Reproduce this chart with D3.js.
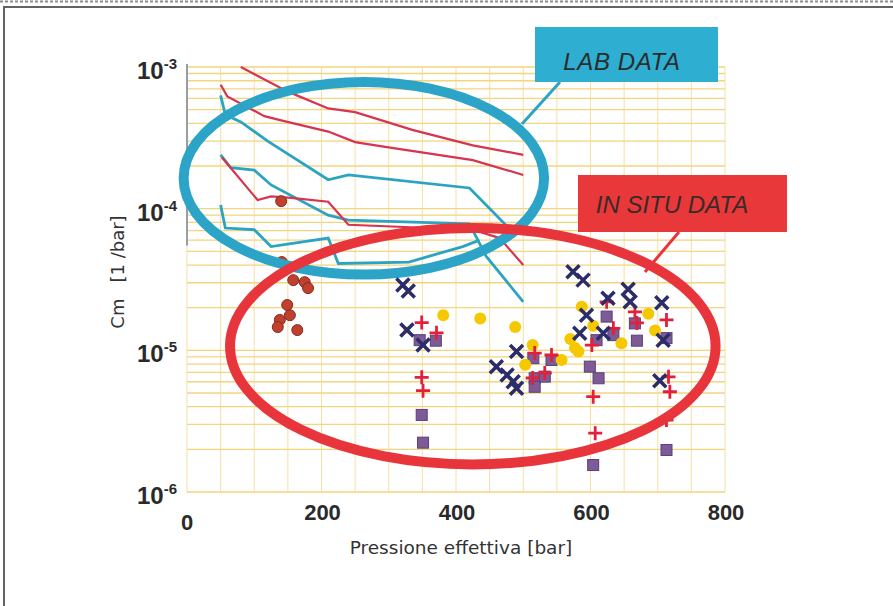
<!DOCTYPE html>
<html><head><meta charset="utf-8">
<script src="https://cdn.jsdelivr.net/npm/d3@7"></script>
<style>body{margin:0;background:#fff}svg{display:block}</style>
</head><body>
<svg id="chart" width="893" height="606"></svg>
<script>
// ---------- DATA ----------
const xTickValues = [0, 200, 400, 600, 800];
const yTickExponents = [-3, -4, -5, -6];
const xTitle = "Pressione effettiva [bar]";
const yTitleA = "Cm";
const yTitleB = "[1 /bar]";

// Lab data curves [pressure (bar), Cm (1/bar)]
const labRed1 = [[80,1.0e-3],[150,6.7e-4],[210,5.1e-4],[250,4.8e-4],[335,3.6e-4],[425,2.8e-4],[500,2.4e-4]];
const labRed2 = [[50,7.5e-4],[60,6.2e-4],[115,4.5e-4],[140,4.2e-4],[210,3.5e-4],[250,2.95e-4],[290,2.75e-4],[425,2.2e-4],[500,1.73e-4]];
const labRed3 = [[52,2.3e-4],[105,1.15e-4],[125,1.22e-4],[155,1.19e-4],[210,1.12e-4],[240,7.7e-5],[425,7.1e-5],[465,6.2e-5],[500,4.0e-5]];
const labCyan1 = [[50,6.3e-4],[57,4.6e-4],[80,4.1e-4],[120,3.0e-4],[210,1.6e-4],[240,1.73e-4],[420,1.4e-4],[485,6.8e-5]];
const labCyan2 = [[50,2.4e-4],[65,1.95e-4],[100,1.87e-4],[125,1.47e-4],[210,9.0e-5],[240,8.3e-5],[420,7.8e-5],[445,4.6e-5],[500,2.2e-5]];
const labCyan3 = [[50,1.06e-4],[57,7.3e-5],[100,7.1e-5],[125,5.4e-5],[210,6.2e-5],[225,4.1e-5],[330,4.2e-5],[410,5.4e-5],[435,6.0e-5]];

// In situ data points
const brownDots = [[140,1.13e-4],[141,4.2e-5],[158,3.13e-5],[175,3.03e-5],[180,2.75e-5],[149,2.09e-5],[153,1.77e-5],[138,1.64e-5],[135,1.46e-5],[164,1.39e-5]];
const navyX = [[321,2.89e-5],[329,2.62e-5],[327,1.39e-5],[351,1.09e-5],[490,9.8e-6],[460,7.67e-6],[476,6.7e-6],[485,6.0e-6],[490,5.4e-6],
  [574,3.59e-5],[589,3.13e-5],[656,2.70e-5],[659,2.20e-5],[706,2.17e-5],[626,2.33e-5],[594,1.77e-5],[584,1.32e-5],[619,1.32e-5],[708,1.18e-5],[703,6.1e-6]];
const redPlus = [[349,1.57e-5],[371,1.33e-5],[349,6.45e-6],[351,5.19e-6],[517,9.57e-6],[542,9.27e-6],[514,6.38e-6],[532,6.92e-6],
  [624,2.20e-5],[666,1.87e-5],[713,1.64e-5],[634,1.43e-5],[602,1.09e-5],[669,1.56e-5],[716,6.5e-6],[718,5.1e-6],[604,4.71e-6],[607,2.6e-6],[713,3.22e-6]];
const purpleSquares = [[346,1.18e-5],[370,1.17e-5],[349,3.5e-6],[351,2.23e-6],[515,8.8e-6],[542,8.55e-6],[517,6.35e-6],[532,6.52e-6],[517,5.53e-6],
  [624,1.73e-5],[666,1.55e-5],[634,1.28e-5],[609,1.18e-5],[669,1.17e-5],[713,1.22e-5],[599,7.67e-6],[612,6.35e-6],[713,1.98e-6],[604,1.55e-6]];
const yellowDots = [[381,1.77e-5],[436,1.68e-5],[488,1.46e-5],[514,1.09e-5],[503,7.9e-6],[557,8.55e-6],[587,2.03e-5],[604,1.49e-5],
  [570,1.20e-5],[577,1.04e-5],[582,9.8e-6],[646,1.12e-5],[686,1.81e-5],[696,1.38e-5]];
const yellowSmall = [[327,1.39e-5]];

// Annotation ellipses: centre (bar, Cm), half width (bar), half height (decades)
const labEllipse = {cx:263, cy:1.64e-4, rx:268, ry:0.68};
const situEllipse = {cx:425, cy:1.07e-5, rx:361, ry:0.835};

// ---------- CHART ----------
const svg = d3.select("#chart");
const W = 893, H = 606;
const x = d3.scaleLinear().domain([0, 800]).range([187, 725]);
const y = d3.scaleLog().domain([1e-6, 1e-3]).range([492, 67]);

// frame
svg.append("line").attr("x1",0).attr("x2",W).attr("y1",1.5).attr("y2",1.5)
  .attr("stroke","#8a8a8a").attr("stroke-width",2).attr("stroke-dasharray","3,2");
svg.append("line").attr("x1",4).attr("x2",W).attr("y1",7).attr("y2",7)
  .attr("stroke","#5f6466").attr("stroke-width",2);
svg.append("line").attr("x1",4).attr("x2",4).attr("y1",6).attr("y2",H)
  .attr("stroke","#5f6466").attr("stroke-width",2);

// grid
const g = svg.append("g");
const minor = [];
for (let e = -6; e < -3; e++) for (let m = 1; m <= 9; m++) minor.push(m * Math.pow(10, e));
minor.push(1e-3);
g.selectAll(".hg").data(minor).join("line")
  .attr("x1", x(0)).attr("x2", x(800))
  .attr("y1", d => y(d)).attr("y2", d => y(d))
  .attr("stroke", "#f0cb5c").attr("stroke-width", 1.3).attr("opacity", 0.8);
g.selectAll(".vg").data(d3.range(0, 801, 50)).join("line")
  .attr("x1", d => x(d)).attr("x2", d => x(d))
  .attr("y1", y(1e-3)).attr("y2", y(1e-6))
  .attr("stroke", "#f3d98e").attr("stroke-width", 1).attr("opacity", 0.8);
// gray axis stub
svg.append("line").attr("x1", x(0)).attr("x2", x(0)).attr("y1", y(1e-3) - 3).attr("y2", y(5.5e-5))
  .attr("stroke", "#9a9ea3").attr("stroke-width", 2);

// tick labels
const tk = svg.append("g").attr("font-family","Liberation Sans, Arial, sans-serif").attr("fill","#2a2a2a");
tk.selectAll(".xt").data(xTickValues).join("text")
  .attr("x", d => x(d) + (d === 0 ? 0 : 1))
  .attr("y", d => d === 0 ? 530 : 520)
  .attr("text-anchor", "middle").attr("font-size", 22).attr("font-weight", "bold")
  .text(d => d);
const yt = tk.selectAll(".yt").data(yTickExponents).join("text")
  .attr("x", 177).attr("y", d => y(Math.pow(10, d)) + 12)
  .attr("text-anchor", "end").attr("font-size", 24).attr("font-weight", "bold");
yt.append("tspan").text("10");
yt.append("tspan").attr("dy", -10).attr("font-size", 15).text(d => "-" + Math.abs(d));

// axis titles
svg.append("text").attr("x", 461).attr("y", 554).attr("text-anchor", "middle")
  .attr("font-family", "DejaVu Sans, sans-serif").attr("font-size", 18.5).attr("fill", "#333")
  .text(xTitle);
const yTitle = svg.append("text").attr("transform", "translate(124,272) rotate(-90)").attr("text-anchor", "middle")
  .attr("font-family", "DejaVu Sans, sans-serif").attr("font-size", 18).attr("fill", "#333");
yTitle.append("tspan").text(yTitleA);
yTitle.append("tspan").attr("dx", 16).text(yTitleB);

// lab lines
const line = d3.line().x(d => x(d[0])).y(d => y(d[1]));
const reds = [labRed1, labRed2, labRed3];
const cyans = [labCyan1, labCyan2, labCyan3];
svg.append("g").selectAll("path").data(cyans).join("path")
  .attr("d", line).attr("fill", "none").attr("stroke", "#2ba4c4").attr("stroke-width", 2.8);
svg.append("g").selectAll("path").data(reds).join("path")
  .attr("d", line).attr("fill", "none").attr("stroke", "#d8334f").attr("stroke-width", 2.2);

// brown dots
svg.append("g").selectAll("circle").data(brownDots).join("circle")
  .attr("cx", d => x(d[0])).attr("cy", d => y(d[1])).attr("r", 5.5)
  .attr("fill", "#c0402e").attr("stroke", "#8a2a20").attr("stroke-width", 1);

// ellipses (annotations)
function ell(e) {
  const cx = x(e.cx), cy = y(e.cy);
  const rx = x(e.cx + e.rx) - cx;
  const ry = y(e.cy) - y(e.cy * Math.pow(10, e.ry));
  return {cx, cy, rx, ry};
}
const ce = ell(labEllipse);
svg.append("ellipse").attr("cx", ce.cx).attr("cy", ce.cy).attr("rx", ce.rx).attr("ry", ce.ry)
  .attr("fill", "none").attr("stroke", "#2ba4c8").attr("stroke-width", 10);

// in situ markers
const mk = svg.append("g");
mk.selectAll(".ys").data(yellowSmall).join("circle")
  .attr("cx", d => x(d[0])).attr("cy", d => y(d[1])).attr("r", 3.5).attr("fill", "#f2cc2a");
mk.selectAll(".sq").data(purpleSquares).join("rect")
  .attr("x", d => x(d[0]) - 5.5).attr("y", d => y(d[1]) - 5.5).attr("width", 11).attr("height", 11)
  .attr("fill", "#7c5b96").attr("stroke", "#5b3f78").attr("stroke-width", 1);
mk.selectAll(".yd").data(yellowDots).join("circle")
  .attr("cx", d => x(d[0])).attr("cy", d => y(d[1])).attr("r", 6).attr("fill", "#f6c800");
mk.selectAll(".px").data(redPlus).join("path")
  .attr("d", d => { const cx = x(d[0]), cy = y(d[1]); return `M${cx-7},${cy}H${cx+7}M${cx},${cy-7}V${cy+7}`; })
  .attr("stroke", "#e3203a").attr("stroke-width", 2.8);
mk.selectAll(".xx").data(navyX).join("path")
  .attr("d", d => { const cx = x(d[0]), cy = y(d[1]); return `M${cx-6.5},${cy-6.5}L${cx+6.5},${cy+6.5}M${cx-6.5},${cy+6.5}L${cx+6.5},${cy-6.5}`; })
  .attr("stroke", "#2b2c6a").attr("stroke-width", 3.5);

const re = ell(situEllipse);
svg.append("ellipse").attr("cx", re.cx).attr("cy", re.cy).attr("rx", re.rx).attr("ry", re.ry)
  .attr("fill", "none").attr("stroke", "#e8353b").attr("stroke-width", 10);

// callouts
svg.append("line").attr("x1", 560).attr("y1", 82).attr("x2", 522).attr("y2", 124)
  .attr("stroke", "#2ba4c8").attr("stroke-width", 3);
svg.append("rect").attr("x", 535).attr("y", 27).attr("width", 183).attr("height", 55).attr("fill", "#2eaed1");
svg.append("text").attr("x", 622).attr("y", 70).attr("text-anchor", "middle")
  .attr("font-family", "Liberation Sans, Arial, sans-serif").attr("font-style", "italic")
  .attr("font-size", 24).attr("letter-spacing", 0.6).attr("fill", "#2c2c2c").text("LAB DATA");

svg.append("line").attr("x1", 679).attr("y1", 232).attr("x2", 645).attr("y2", 272)
  .attr("stroke", "#e8353b").attr("stroke-width", 3);
svg.append("rect").attr("x", 578).attr("y", 175).attr("width", 209).attr("height", 57).attr("fill", "#e8383a");
svg.append("text").attr("x", 672).attr("y", 213).attr("text-anchor", "middle")
  .attr("font-family", "Liberation Sans, Arial, sans-serif").attr("font-style", "italic")
  .attr("font-size", 24).attr("fill", "#3a2a2a").text("IN SITU DATA");
</script>
</body></html>
